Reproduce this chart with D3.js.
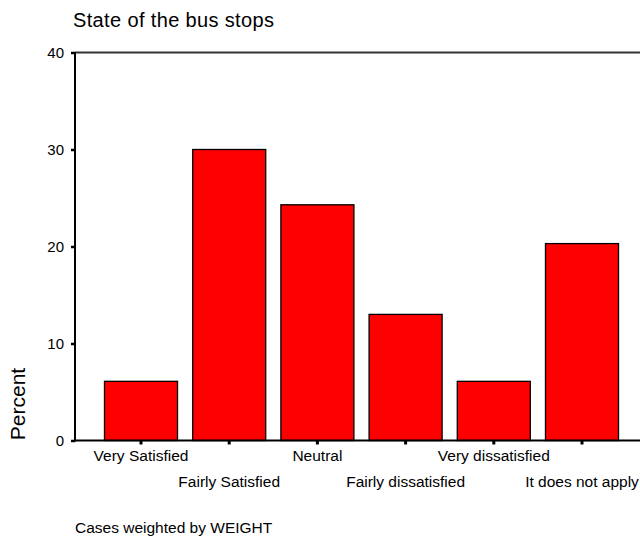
<!DOCTYPE html>
<html><head><meta charset="utf-8">
<script src="https://cdn.jsdelivr.net/npm/d3@7"></script>
<style>body{margin:0;background:#fff;} text{font-family:Arial,"Liberation Sans",sans-serif;fill:#000;}</style>
</head><body>
<svg id="c" width="640" height="537"></svg>
<script>
const categories = ["Very Satisfied","Fairly Satisfied","Neutral","Fairly dissatisfied","Very dissatisfied","It does not apply"];
const percents = [6.1, 30.0, 24.3, 13.0, 6.1, 20.3];
const yTicks = [0,10,20,30,40];
const title = "State of the bus stops";
const yTitle = "Percent";
const footnote = "Cases weighted by WEIGHT";

(function(){
const svg = d3.select("#c");
const pLeft = 75, pTop = 52.5, pBottom = 440.5;
const x = d3.scaleBand().domain(categories).range([96.9, 626.1]).paddingInner(0.172).paddingOuter(0.086);
const y = d3.scaleLinear().domain([0,40]).range([pBottom, pTop]);

svg.append("text").attr("x",73).attr("y",27).attr("font-size",20).attr("textLength",201).text(title);

// bars
svg.selectAll("rect.bar").data(categories).enter().append("rect")
  .attr("x", d=>x(d)).attr("width", x.bandwidth())
  .attr("y", (d,i)=>y(percents[i])).attr("height",(d,i)=>y(0)-y(percents[i]))
  .attr("fill","#ff0000").attr("stroke","#000").attr("stroke-width",1.3);

// frame lines
svg.append("line").attr("x1",pLeft).attr("x2",640).attr("y1",pTop).attr("y2",pTop).attr("stroke","#333").attr("stroke-width",2);
svg.append("line").attr("x1",pLeft).attr("x2",640).attr("y1",pBottom).attr("y2",pBottom).attr("stroke","#000").attr("stroke-width",2);

// y axis
const ya = svg.append("g").attr("transform",`translate(${pLeft},0)`)
  .call(d3.axisLeft(y).tickValues(yTicks).tickSize(4).tickPadding(7).tickFormat(d3.format("d")));
ya.select(".domain").attr("stroke","#000").attr("stroke-width",2).attr("d",`M0,${pTop}V${pBottom+1}`);
ya.selectAll(".tick line").attr("stroke","#000").attr("stroke-width",2.5);
ya.selectAll(".tick text").attr("font-size",15).attr("font-family","Arial,'Liberation Sans',sans-serif").attr("fill","#000");

// x axis
const xa = svg.append("g").attr("transform",`translate(0,${pBottom})`)
  .call(d3.axisBottom(x).tickSize(4).tickPadding(6));
xa.select(".domain").remove();
xa.selectAll(".tick line").attr("stroke","#000").attr("stroke-width",3);
xa.selectAll(".tick text").attr("font-size",15.5).attr("font-family","Arial,'Liberation Sans',sans-serif").attr("fill","#000")
  .attr("dy",null).attr("y",(d,i)=> i%2===0 ? 20.5 : 46.5);

svg.append("text").attr("transform","translate(25,404) rotate(-90)").attr("text-anchor","middle").attr("font-size",21).text(yTitle);
svg.append("text").attr("x",75).attr("y",533).attr("font-size",15.5).text(footnote);
})();
</script>
</body></html>
